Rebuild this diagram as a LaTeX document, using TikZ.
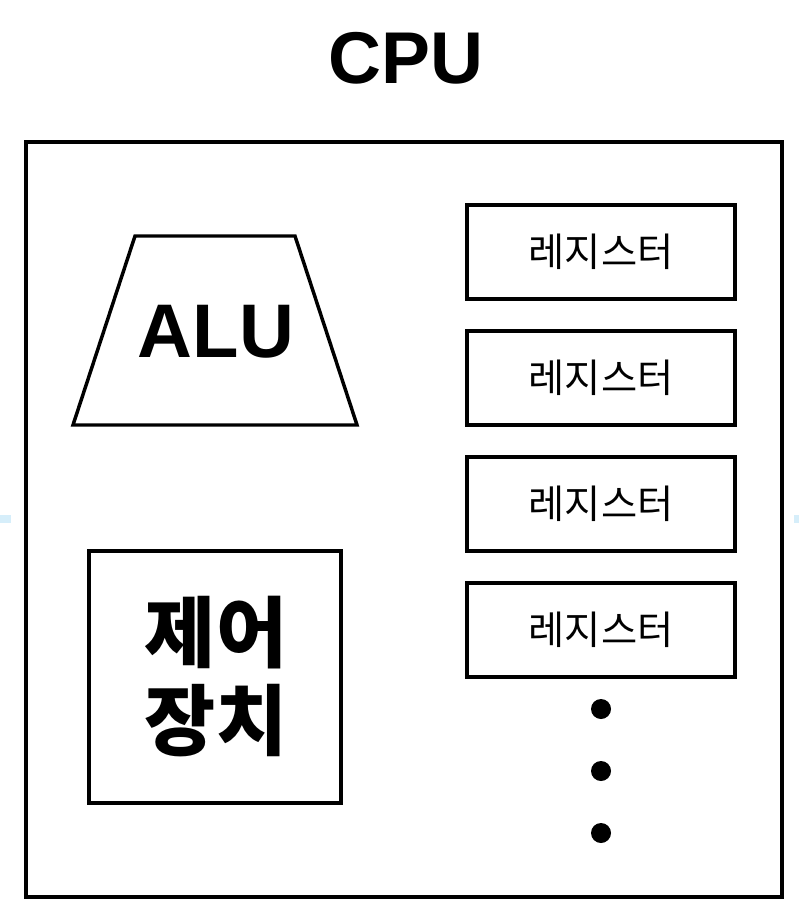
\documentclass[tikz,border=0pt]{standalone}
\usepackage{fontspec}
\setmainfont{Liberation Sans}
\newfontfamily\kr{Noto Sans CJK KR}
\definecolor{handle}{RGB}{214,238,250}
\begin{document}
\begin{tikzpicture}[x=0.75pt,y=-0.75pt,
  box/.style={draw=black,line width=2.6pt},
  regbox/.style={draw=black,line width=2.6pt,minimum width=268*0.75pt,minimum height=94*0.75pt,inner sep=0pt,
    font=\kr\fontsize{29.5}{32}\selectfont},
  dotmark/.style={circle,fill=black,minimum size=15pt,inner sep=0pt}]
\useasboundingbox (0,0) rectangle (799,909);
\fill[handle] (0,515) rectangle (11,523);
\fill[handle] (794,515) rectangle (799,523);
\node[font=\bfseries\fontsize{55}{60}\selectfont,inner sep=0pt] (title) at (406,58) {CPU};
\draw[box] (26,142) rectangle (782,897);
\draw[box] (135,236) -- (295,236) -- (357,425) -- (73,425) -- cycle;
\node[font=\bfseries\fontsize{57}{60}\selectfont,inner sep=0pt] (alu) at (216,332) {ALU};
\draw[box] (89,551) rectangle (341,803);
\node[font=\kr\bfseries\fontsize{58}{66}\selectfont,align=center,inner sep=0pt] (ctrl) at (216,677) {제어\\장치};
\node[regbox] (r1) at (601,252) {레지스터};
\node[regbox] (r2) at (601,378) {레지스터};
\node[regbox] (r3) at (601,504) {레지스터};
\node[regbox] (r4) at (601,630) {레지스터};
\node[dotmark] (d1) at (601,709) {};
\node[dotmark] (d2) at (601,771) {};
\node[dotmark] (d3) at (601,833) {};
\end{tikzpicture}
\end{document}
